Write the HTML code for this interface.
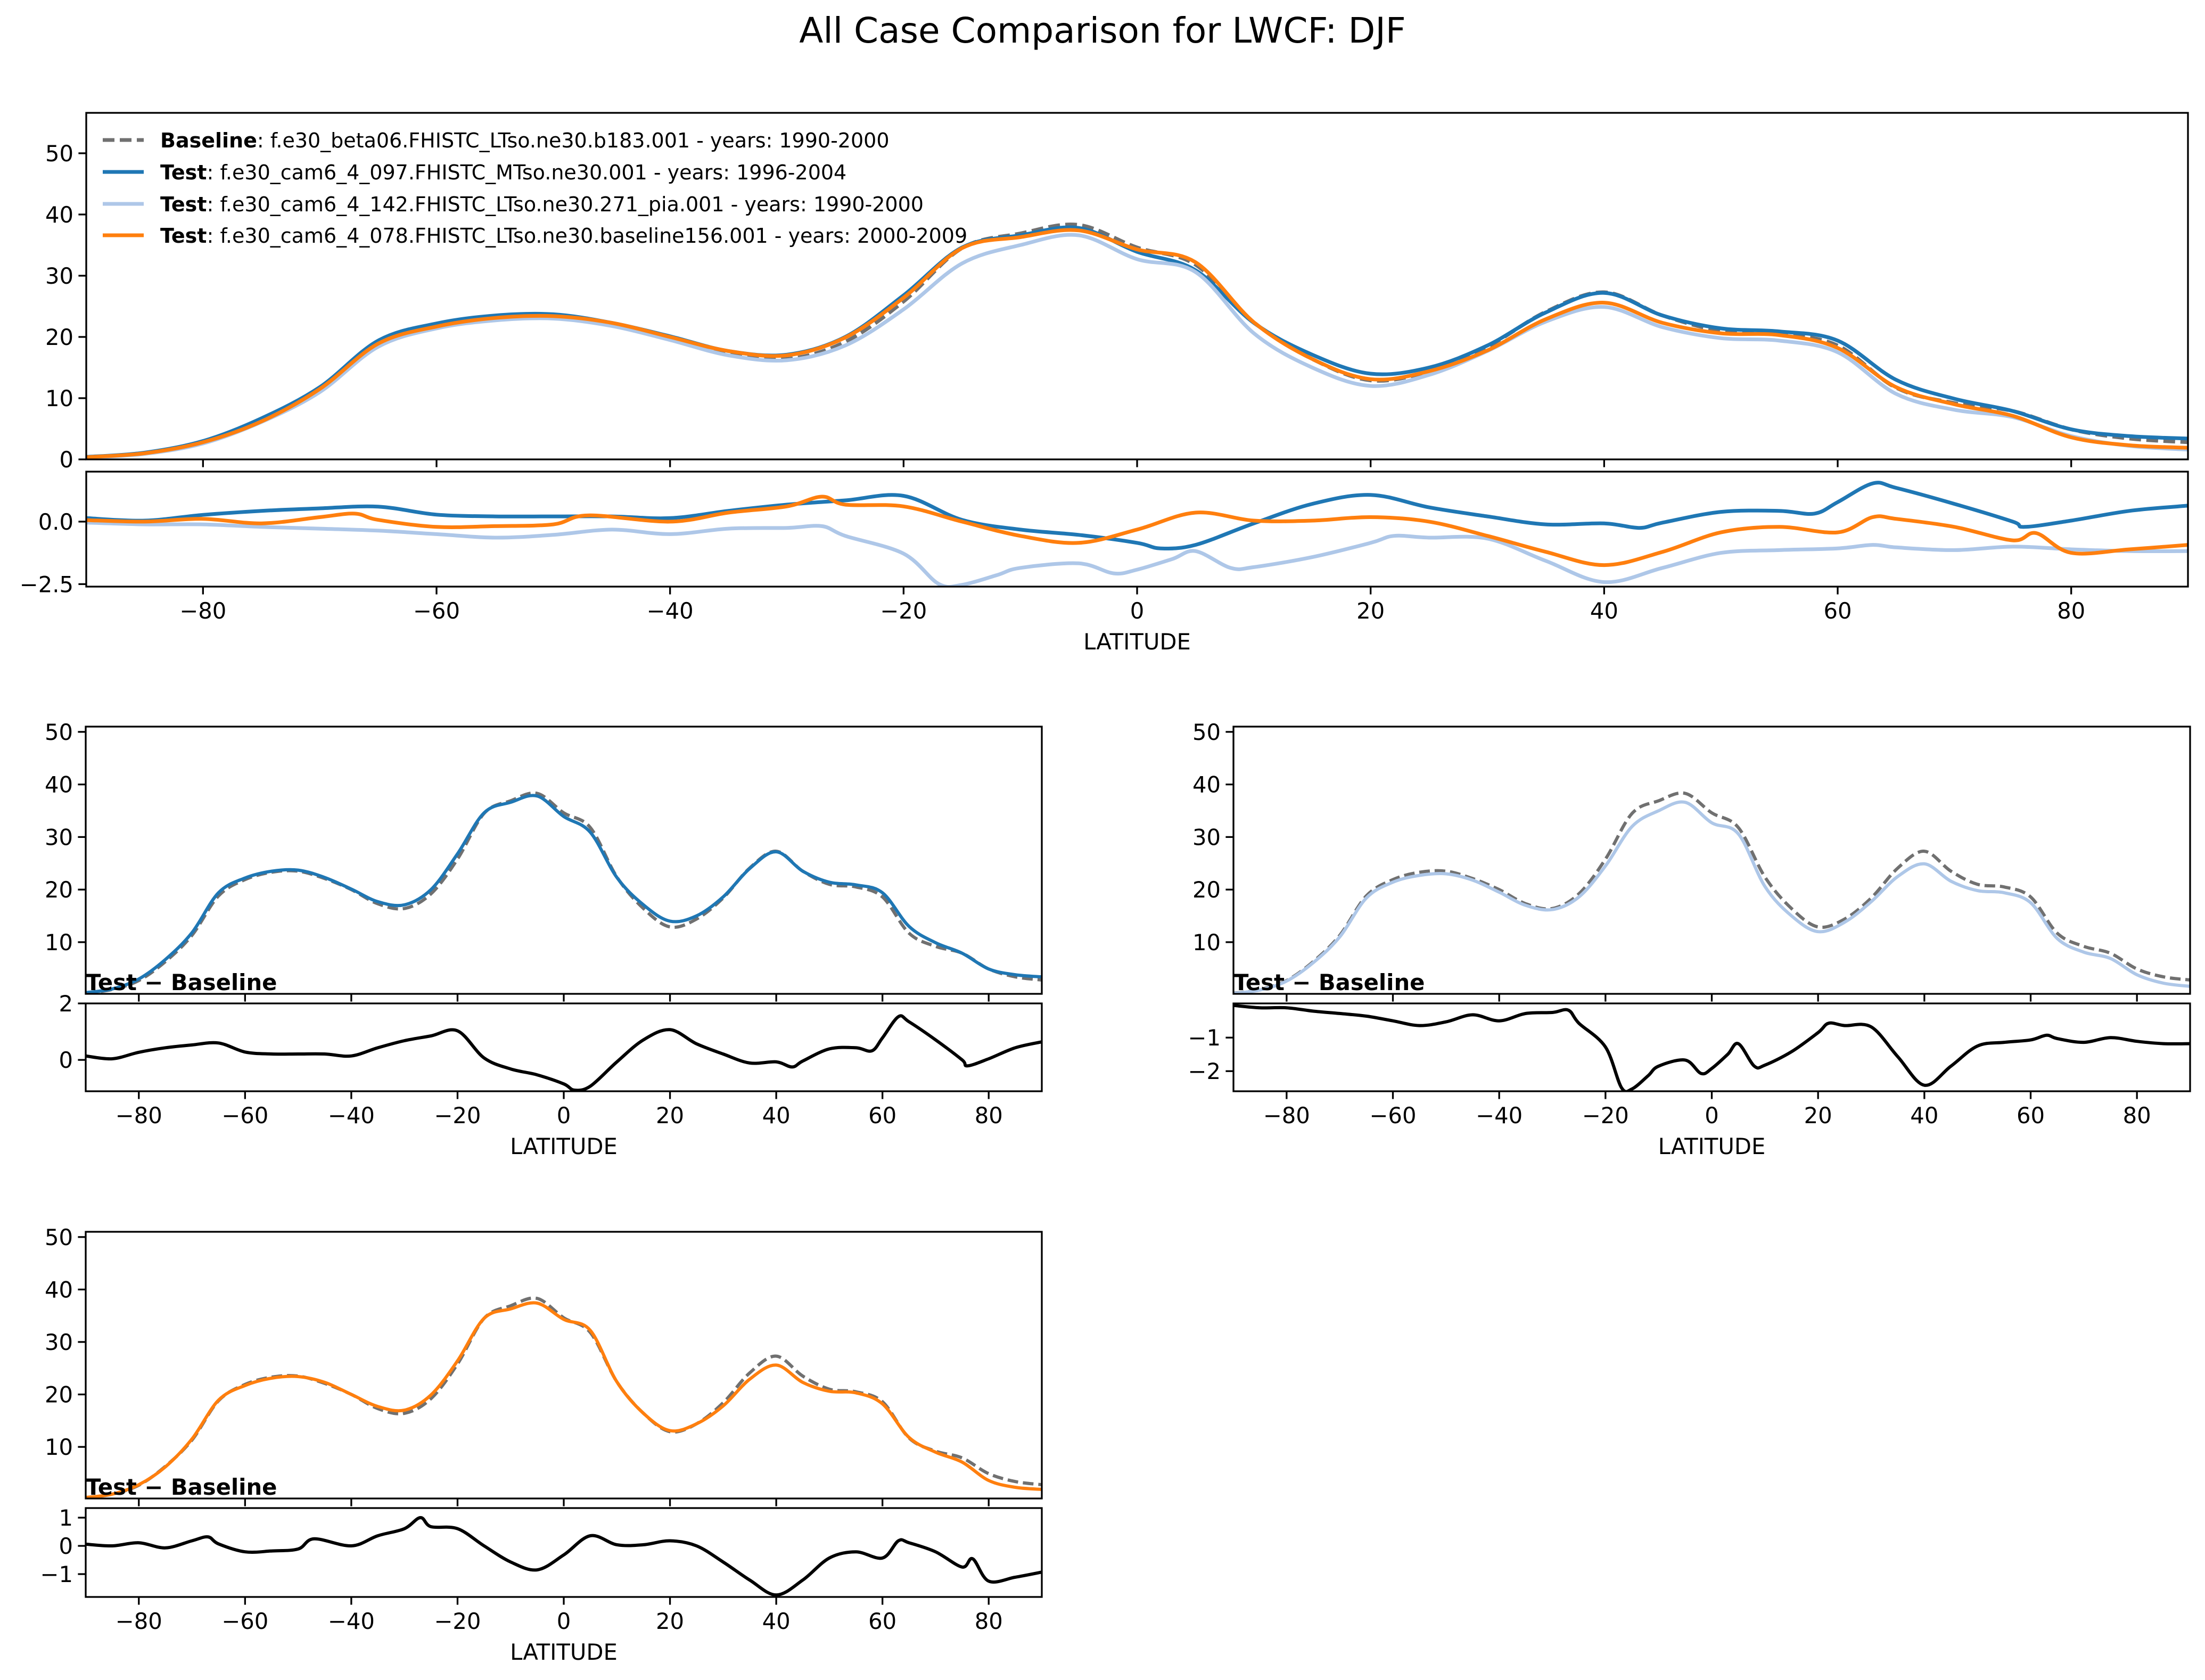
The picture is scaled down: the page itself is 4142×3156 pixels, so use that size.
<!DOCTYPE html>
<html><head><meta charset="utf-8"><style>
html,body{margin:0;padding:0;background:#fff;}
svg{display:block;font-family:"DejaVu Sans","Liberation Sans",sans-serif;}
</style></head><body>
<svg id="fig" width="4142" height="3156" viewBox="0 0 4142 3156" xmlns="http://www.w3.org/2000/svg">
<rect width="4142" height="3156" fill="#fff"/>
<text x="2071" y="80" font-size="66" text-anchor="middle">All Case Comparison for LWCF: DJF</text>
<g id="legend">
<line x1="193" y1="263" x2="270" y2="263" stroke="#707070" stroke-width="7" stroke-dasharray="22,10"/>
<text x="301" y="277" font-size="38"><tspan font-weight="bold">Baseline</tspan>: f.e30_beta06.FHISTC_LTso.ne30.b183.001 - years: 1990-2000</text>
<line x1="193" y1="323" x2="270" y2="323" stroke="#1f77b4" stroke-width="7"/>
<text x="301" y="337" font-size="38"><tspan font-weight="bold">Test</tspan>: f.e30_cam6_4_097.FHISTC_MTso.ne30.001 - years: 1996-2004</text>
<line x1="193" y1="383" x2="270" y2="383" stroke="#aec7e8" stroke-width="7"/>
<text x="301" y="397" font-size="38"><tspan font-weight="bold">Test</tspan>: f.e30_cam6_4_142.FHISTC_LTso.ne30.271_pia.001 - years: 1990-2000</text>
<line x1="193" y1="442" x2="270" y2="442" stroke="#ff7f0e" stroke-width="7"/>
<text x="301" y="456" font-size="38"><tspan font-weight="bold">Test</tspan>: f.e30_cam6_4_078.FHISTC_LTso.ne30.baseline156.001 - years: 2000-2009</text>
</g>
</svg>
<script>
// ---- data ----
const lats = [-90,-85,-80,-75,-70,-65,-60,-55,-50,-45,-40,-35,-30,-25,-20,-15,-10,-5,0,5,10,15,20,25,30,35,40,45,50,55,60,65,70,75,80,85,90];
const baseline = [0.3,1.0,2.7,6.3,11.3,18.8,21.9,23.3,23.5,22.1,20.0,17.3,16.4,19.2,25.8,34.5,36.9,38.3,34.6,31.8,22.4,16.4,12.9,14.4,18.4,24.1,27.3,23.5,21.0,20.5,18.6,11.7,9.2,7.9,4.9,3.4,2.8];
const test1 = [0.4,1.1,3.0,6.7,11.8,19.4,22.2,23.5,23.7,22.3,20.1,17.7,17.1,20.0,26.8,34.6,36.6,37.8,33.9,30.9,22.3,17.1,14.0,15.0,18.6,24.0,27.2,23.5,21.4,20.9,19.4,13.0,9.9,7.9,4.9,3.8,3.4];
const test2 = [0.26,0.9,2.6,6.1,11.0,18.4,21.4,22.7,23.0,21.8,19.5,17.0,16.2,18.6,24.5,32.0,35.0,36.6,32.7,30.6,20.6,15.0,12.0,13.8,17.7,22.5,24.9,21.6,19.8,19.4,17.5,10.7,8.1,6.9,3.8,2.2,1.6];
const test3 = [0.36,1.0,2.8,6.2,11.5,18.9,21.7,23.1,23.4,22.3,20.0,17.7,17.0,19.9,26.4,34.5,36.3,37.4,34.3,32.2,22.4,16.4,13.1,14.4,17.8,22.9,25.6,22.3,20.6,20.3,18.2,11.8,9.0,7.1,3.6,2.3,1.9];
const diffLat1 = [-90,-85,-80,-75,-70,-65,-60,-55,-50,-45,-40,-35,-30,-25,-20,-15,-10,-5,0,2,5,10,15,20,25,30,35,40,43,45,50,55,58,60,63,65,70,75,76,80,85,90];
const diff1 = [0.14,0.04,0.27,0.43,0.53,0.6,0.28,0.21,0.21,0.21,0.14,0.43,0.68,0.85,1.03,0.07,-0.32,-0.53,-0.85,-1.07,-0.93,-0.07,0.71,1.07,0.57,0.21,-0.11,-0.07,-0.25,-0.04,0.39,0.43,0.32,0.78,1.53,1.35,0.71,0.0,-0.21,0.04,0.43,0.64];
const diffLat2 = [-90,-85,-80,-75,-70,-65,-60,-55,-50,-45,-40,-35,-30,-27,-25,-20,-17,-15,-12,-10,-5,-2,0,3,5,8,10,15,20,22,25,30,35,40,45,50,55,60,63,65,70,75,80,85,90];
const diff2 = [-0.04,-0.11,-0.11,-0.21,-0.28,-0.36,-0.5,-0.64,-0.53,-0.32,-0.5,-0.28,-0.25,-0.18,-0.57,-1.28,-2.49,-2.53,-2.14,-1.85,-1.67,-2.07,-1.92,-1.5,-1.18,-1.85,-1.82,-1.42,-0.85,-0.57,-0.64,-0.68,-1.57,-2.42,-1.85,-1.25,-1.14,-1.07,-0.93,-1.03,-1.14,-1.0,-1.11,-1.18,-1.18];
const diffLat3 = [-90,-85,-80,-75,-70,-67,-65,-60,-55,-50,-47,-40,-35,-30,-27,-25,-20,-15,-10,-5,0,5,10,15,20,25,30,35,40,45,50,55,60,63,65,70,75,77,80,85,90];
const diff3 = [0.06,0.0,0.11,-0.07,0.18,0.32,0.07,-0.21,-0.18,-0.11,0.25,0.0,0.36,0.61,1.0,0.68,0.61,0.0,-0.57,-0.85,-0.32,0.36,0.04,0.04,0.18,0.0,-0.57,-1.21,-1.74,-1.21,-0.43,-0.21,-0.43,0.18,0.11,-0.21,-0.75,-0.46,-1.25,-1.11,-0.93];
const xTicks = [-80,-60,-40,-20,0,20,40,60,80];
const xTickLabels = ['\u221280','\u221260','\u221240','\u221220','0','20','40','60','80'];
const mainYTicks = [0,10,20,30,40,50];
const subYTicks = [10,20,30,40,50];
const mainDiffTicks = [0,-2.5];
const mainDiffLabels = ['0.0','\u22122.5'];
const diff1Ticks = [0,2];
const diff2Ticks = [-1,-2];
const diff3Ticks = [1,0,-1];

const NS = 'http://www.w3.org/2000/svg';
const fig = document.getElementById('fig');
let clipN = 0;
function mk(tag, parent){ const el = document.createElementNS(NS, tag); parent.appendChild(el); return el; }
function scale(d0,d1,r0,r1){ return v => r0 + (v-d0)/(d1-d0)*(r1-r0); }
function smoothPath(xs, ys){
  let d = 'M' + xs[0].toFixed(1) + ',' + ys[0].toFixed(1);
  for (let i=0;i<xs.length-1;i++){
    const x0=xs[Math.max(0,i-1)], y0=ys[Math.max(0,i-1)];
    const x1=xs[i], y1=ys[i], x2=xs[i+1], y2=ys[i+1];
    const x3=xs[Math.min(xs.length-1,i+2)], y3=ys[Math.min(xs.length-1,i+2)];
    const c1x=x1+(x2-x0)/6, c1y=y1+(y2-y0)/6, c2x=x2-(x3-x1)/6, c2y=y2-(y3-y1)/6;
    d += 'C'+c1x.toFixed(1)+','+c1y.toFixed(1)+' '+c2x.toFixed(1)+','+c2y.toFixed(1)+' '+x2.toFixed(1)+','+y2.toFixed(1);
  }
  return d;
}
function axes(name, x0,x1,y0,y1, ylim, yt, ytl, showXLabels){
  const g = mk('g', fig);
  
  
  const sx = scale(-90,90,x0,x1), sy = scale(ylim[0],ylim[1],y1,y0);
  const cid = 'clip'+(clipN++);
  const cp = mk('clipPath', g); cp.setAttribute('id', cid);
  const cr = mk('rect', cp); cr.setAttribute('x',x0); cr.setAttribute('y',y0); cr.setAttribute('width',x1-x0); cr.setAttribute('height',y1-y0);
  const lines = mk('g', g); lines.setAttribute('clip-path','url(#'+cid+')');
  
  
  xTicks.forEach((t,i)=>{
    const l = mk('line', g);
    
    
    l.setAttribute('x1',sx(t)); l.setAttribute('x2',sx(t)); l.setAttribute('y1',y1); l.setAttribute('y2',y1+14.6);
    l.setAttribute('stroke','#000'); l.setAttribute('stroke-width','3.3');
    if (showXLabels){
      const tx = mk('text', g);
      
      
      tx.setAttribute('x',sx(t)); tx.setAttribute('y',y1+60); tx.setAttribute('font-size','41.7'); tx.setAttribute('text-anchor','middle');
      tx.textContent = xTickLabels[i];
    }
  });
  yt.forEach((t,i)=>{
    const l = mk('line', g);
    
    
    l.setAttribute('x1',x0-14.6); l.setAttribute('x2',x0); l.setAttribute('y1',sy(t)); l.setAttribute('y2',sy(t));
    l.setAttribute('stroke','#000'); l.setAttribute('stroke-width','3.3');
    const tx = mk('text', g);
    
    
    tx.setAttribute('x',x0-24); tx.setAttribute('y',sy(t)+15); tx.setAttribute('font-size','41.7'); tx.setAttribute('text-anchor','end');
    tx.textContent = ytl ? ytl[i] : String(t).replace('-','\u2212');
  });
  if (showXLabels){
    const xl = mk('text', g);
    
    
    xl.setAttribute('x',(x0+x1)/2); xl.setAttribute('y',y1+118); xl.setAttribute('font-size','41.7'); xl.setAttribute('text-anchor','middle');
    xl.textContent = 'LATITUDE';
  }
  const fr = mk('rect', g);
  
  
  fr.setAttribute('x',x0); fr.setAttribute('y',y0); fr.setAttribute('width',x1-x0); fr.setAttribute('height',y1-y0);
  fr.setAttribute('fill','none'); fr.setAttribute('stroke','#000'); fr.setAttribute('stroke-width','3.3');
  return {sx, sy, lines};
}
function series(ax, name, lx, vals, color, w, dash){
  const p = mk('path', ax.lines);
  
  
  p.setAttribute('d', smoothPath(lx.map(ax.sx), vals.map(ax.sy)));
  p.setAttribute('fill','none'); p.setAttribute('stroke',color); p.setAttribute('stroke-width',w);
  p.setAttribute('stroke-linejoin','round');
  if (dash) p.setAttribute('stroke-dasharray', dash);
}
function subTitle(x, y){
  const t = mk('text', fig);
  
  
  t.setAttribute('x',x); t.setAttribute('y',y); t.setAttribute('font-size','41.7'); t.setAttribute('font-weight','bold');
  t.textContent = 'Test \u2212 Baseline';
}
const GRAY = '#707070', BLUE = '#1f77b4', LB = '#aec7e8', OR = '#ff7f0e';

// main
const m = axes('main-panel', 162,4110,212,863,[0,56.6],mainYTicks,null,false);
series(m,'main-baseline-line',lats,baseline,GRAY,7,'22,10');
series(m,'main-test1-line',lats,test1,BLUE,7);
series(m,'main-test2-line',lats,test2,LB,7);
series(m,'main-test3-line',lats,test3,OR,7);
const md = axes('main-diff-panel', 162,4110,886,1102,[-2.6,2.0],mainDiffTicks,mainDiffLabels,true);
series(md,'main-diff-test1-line',diffLat1,diff1,BLUE,7);
series(md,'main-diff-test2-line',diffLat2,diff2,LB,7);
series(md,'main-diff-test3-line',diffLat3,diff3,OR,7);

// panel test1
const p1 = axes('test1-panel', 161,1957,1365,1867,[0.17,51],subYTicks,null,false);
series(p1,'test1-baseline-line',lats,baseline,GRAY,6,'20,9');
series(p1,'test1-line',lats,test1,BLUE,6);
const p1d = axes('test1-diff-panel', 161,1957,1885,2050,[-1.11,2.0],diff1Ticks,null,true);
series(p1d,'test1-diff-line',diffLat1,diff1,'#000',6);
subTitle(161,1860);

// panel test2
const p2 = axes('test2-panel', 2317,4114,1365,1867,[0.17,51],subYTicks,null,false);
series(p2,'test2-baseline-line',lats,baseline,GRAY,6,'20,9');
series(p2,'test2-line',lats,test2,LB,6);
const p2d = axes('test2-diff-panel', 2317,4114,1885,2050,[-2.6,0.02],diff2Ticks,null,true);
series(p2d,'test2-diff-line',diffLat2,diff2,'#000',6);
subTitle(2317,1860);

// panel test3
const p3 = axes('test3-panel', 161,1957,2314,2815,[0.17,51],subYTicks,null,false);
series(p3,'test3-baseline-line',lats,baseline,GRAY,6,'20,9');
series(p3,'test3-line',lats,test3,OR,6);
const p3d = axes('test3-diff-panel', 161,1957,2833,3000,[-1.81,1.34],diff3Ticks,null,true);
series(p3d,'test3-diff-line',diffLat3,diff3,'#000',6);
subTitle(161,2808);
</script>
</body></html>
